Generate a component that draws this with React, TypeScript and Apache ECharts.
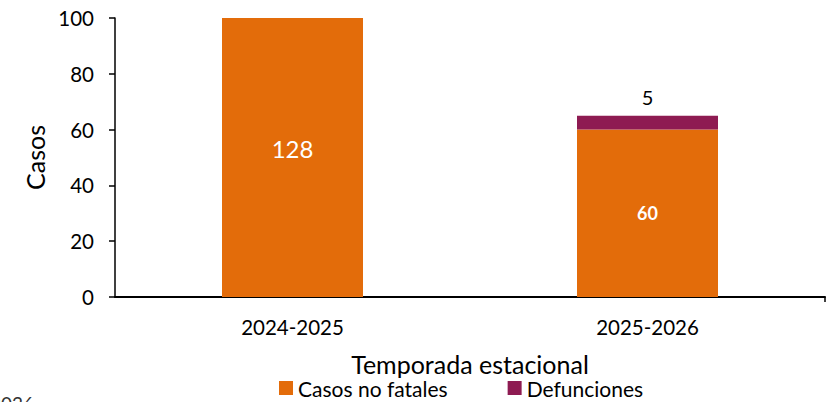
import React, { useEffect, useRef } from "react";
import * as echarts from "echarts";

const categories = ["2024-2025", "2025-2026"];
const nonFatal = [128, 60];
const deaths: (number | null)[] = [null, 5];
const yTicks = { min: 0, max: 100, interval: 20 };
const seriesNames = ["Casos no fatales", "Defunciones"];

const FONT = "Lato, 'Open Sans', sans-serif";
const ORANGE = "#E36C0A";
const PURPLE = "#8E1B52";

export default function App() {
  const ref = useRef<HTMLDivElement>(null);
  useEffect(() => {
    document.body.style.margin = "0";
    const chart = echarts.init(ref.current!, undefined, { renderer: "svg" });
    chart.setOption({
      animation: false,
      textStyle: { fontFamily: FONT },
      grid: { left: 115, right: 8, top: 18, bottom: 105 },
      legend: {
        top: 377,
        left: 279,
        itemWidth: 14,
        itemHeight: 14,
        itemGap: 60,
        icon: "rect",
        padding: [0, 0, 0, 0],
        textStyle: { fontSize: 21, lineHeight: 22, color: "#000", fontFamily: FONT },
        data: seriesNames,
      },
      xAxis: {
        type: "category",
        data: categories,
        name: "Temporada estacional",
        nameLocation: "middle",
        nameGap: 54,
        nameTextStyle: { fontSize: 25, color: "#000", fontFamily: FONT },
        axisLine: { lineStyle: { color: "#000", width: 2 } },
        axisTick: { alignWithLabel: true, length: 5, lineStyle: { color: "#000", width: 1.5 } },
        axisLabel: { fontSize: 20.5, color: "#000", margin: 19, fontFamily: FONT },
      },
      yAxis: {
        type: "value",
        min: yTicks.min,
        max: yTicks.max,
        interval: yTicks.interval,
        name: "Casos",
        nameLocation: "middle",
        nameGap: 68,
        nameTextStyle: { fontSize: 25, color: "#000", fontFamily: FONT },
        axisLine: { show: true, lineStyle: { color: "#000", width: 1.5 } },
        axisTick: { show: true, length: 6, lineStyle: { color: "#000", width: 1.5 } },
        axisLabel: { fontSize: 20.5, color: "#000", margin: 21, fontFamily: FONT },
        splitLine: { show: false },
      },
      series: [
        {
          name: seriesNames[0],
          type: "bar",
          stack: "total",
          barWidth: 141,
          clip: true,
          itemStyle: { color: ORANGE },
          data: nonFatal.map((v, i) => ({
            value: v,
            label:
              i === 0
                ? {
                    show: true,
                    position: "insideBottom",
                    distance: 137,
                    fontSize: 24,
                    color: "#fff",
                    fontFamily: FONT,
                  }
                : {
                    show: true,
                    position: "inside",
                    fontSize: 18,
                    fontWeight: "bold",
                    color: "#fff",
                    fontFamily: FONT,
                  },
          })),
        },
        {
          name: seriesNames[1],
          type: "bar",
          stack: "total",
          barWidth: 141,
          itemStyle: { color: PURPLE },
          label: {
            show: true,
            position: "top",
            distance: 9,
            fontSize: 20,
            color: "#000",
            fontFamily: FONT,
          },
          data: deaths,
        },
      ],
      graphic: [
        {
          type: "line",
          shape: { x1: 825, y1: 297, x2: 825, y2: 302 },
          style: { stroke: "#000", lineWidth: 1.5 },
        },
        {
          type: "text",
          x: 34,
          y: 394,
          style: {
            text: "2026",
            fontSize: 19,
            fill: "#333",
            fontFamily: FONT,
            textAlign: "right",
            textVerticalAlign: "top",
          },
        },
      ],
    });
    return () => chart.dispose();
  }, []);
  return <div ref={ref} style={{ width: 833, height: 402 }} />;
}
